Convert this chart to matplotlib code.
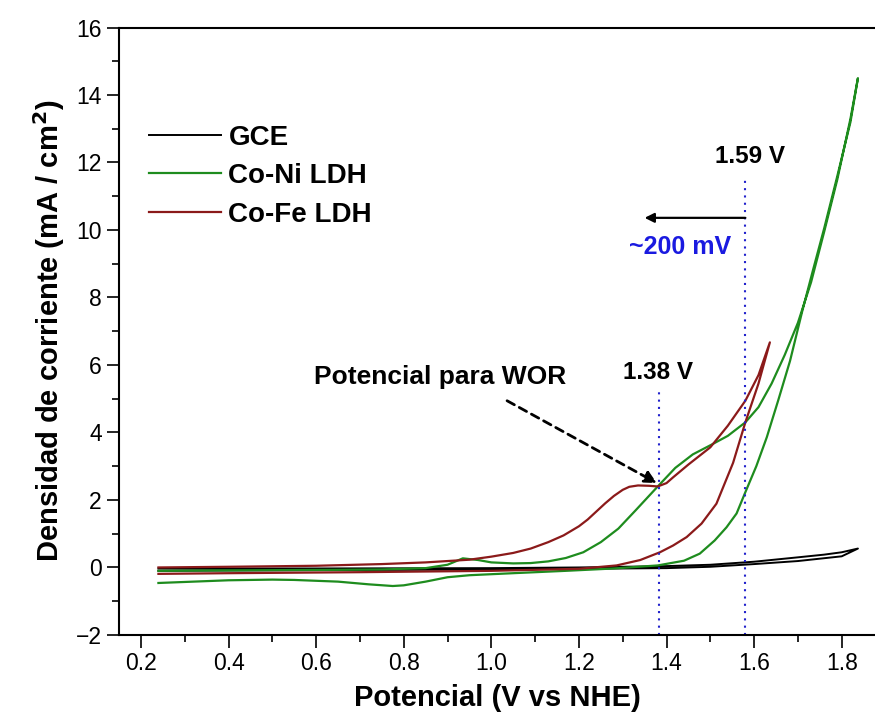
import numpy as np
import matplotlib.pyplot as plt
from matplotlib.ticker import MultipleLocator

plt.rcParams['font.family'] = ['Liberation Sans', 'DejaVu Sans']

# GCE: barrido de ida y de vuelta
gce_x = [0.24, 0.6, 1.0, 1.2, 1.4, 1.5, 1.6, 1.7, 1.76, 1.8, 1.837,
         1.8, 1.7, 1.6, 1.5, 1.4, 1.0, 0.6, 0.24]
gce_y = [-0.03, -0.03, -0.02, 0.0, 0.04, 0.08, 0.17, 0.3, 0.38, 0.45, 0.56,
         0.33, 0.19, 0.1, 0.02, -0.02, -0.06, -0.08, -0.1]

# Co-Ni LDH
coni_x = [0.24, 0.35, 0.5, 0.65, 0.75, 0.85, 0.9, 0.935, 0.97, 1.0, 1.05, 1.09,
          1.13, 1.17, 1.21, 1.25, 1.29, 1.33, 1.38, 1.42, 1.46, 1.5, 1.54, 1.58,
          1.61, 1.64, 1.67, 1.70, 1.73, 1.76, 1.79, 1.82, 1.837,
          1.82, 1.79, 1.76, 1.734, 1.71, 1.682, 1.655, 1.629, 1.605, 1.58, 1.56,
          1.537, 1.51, 1.476, 1.44, 1.38, 1.28, 1.17, 1.05, 0.95, 0.9, 0.85, 0.8,
          0.775, 0.72, 0.65, 0.55, 0.5, 0.4, 0.3, 0.24]
coni_y = [-0.1, -0.09, -0.08, -0.07, -0.06, -0.02, 0.08, 0.27, 0.22, 0.15, 0.12, 0.13,
          0.18, 0.28, 0.45, 0.75, 1.15, 1.7, 2.4, 2.95, 3.35, 3.62, 3.9, 4.3,
          4.75, 5.45, 6.3, 7.25, 8.45, 9.95, 11.5, 13.3, 14.5,
          13.2, 11.6, 10.05, 8.79, 7.6, 6.12, 4.95, 3.86, 3.0, 2.23, 1.6,
          1.19, 0.8, 0.41, 0.2, 0.06, -0.03, -0.1, -0.17, -0.23, -0.29, -0.42, -0.53,
          -0.55, -0.5, -0.42, -0.37, -0.36, -0.38, -0.43, -0.46]

# Co-Fe LDH
cofe_x = [0.24, 0.4, 0.6, 0.75, 0.85, 0.95, 1.0, 1.05, 1.09, 1.13, 1.165, 1.2,
          1.22, 1.24, 1.26, 1.28, 1.30, 1.315, 1.335, 1.36, 1.38, 1.4, 1.415,
          1.45, 1.5, 1.54, 1.58, 1.61, 1.636,
          1.61, 1.58, 1.552, 1.53, 1.514, 1.48, 1.446, 1.415, 1.385, 1.34, 1.286,
          1.2, 1.0, 0.7, 0.4, 0.24]
cofe_y = [0.0, 0.02, 0.05, 0.1, 0.15, 0.23, 0.32, 0.43, 0.56, 0.75, 0.95, 1.22,
          1.42, 1.66, 1.9, 2.12, 2.3, 2.39, 2.43, 2.42, 2.4, 2.5, 2.67,
          3.05, 3.56, 4.2, 4.94, 5.7, 6.67,
          5.45, 4.3, 3.1, 2.4, 1.89, 1.3, 0.9, 0.65, 0.45, 0.22, 0.06,
          -0.04, -0.1, -0.14, -0.17, -0.19]

# potenciales marcados
v_wor = 1.383
v_coni = 1.58

fig = plt.figure(figsize=(8.75, 7.24), dpi=100)
ax = fig.add_axes([0.136, 0.123, 0.864, 0.839])

ax.plot(gce_x, gce_y, color='black', lw=1.4, label='GCE')
ax.plot(coni_x, coni_y, color='#1e8c1e', lw=1.6, label='Co-Ni LDH')
ax.plot(cofe_x, cofe_y, color='#8b1a1a', lw=1.6, label='Co-Fe LDH')

# líneas punteadas verticales
ax.plot([v_wor, v_wor], [-2, 5.2], color='#2222cc', lw=1.5, ls=(0, (1, 2.5)))
ax.plot([v_coni, v_coni], [-2, 11.6], color='#2222cc', lw=1.5, ls=(0, (1, 2.5)))

ax.text(1.59, 11.98, '1.59 V', fontsize=17.5, fontweight='bold', ha='center', va='baseline')
ax.text(1.38, 5.59, '1.38 V', fontsize=17.5, fontweight='bold', ha='center', va='baseline')
ax.text(0.883, 5.44, 'Potencial para WOR', fontsize=19, fontweight='bold',
        ha='center', va='baseline')
ax.text(1.43, 9.29, '~200 mV', fontsize=18, fontweight='bold', color='#1a1ae0',
        ha='center', va='baseline')

ax.annotate('', xy=(1.35, 10.36), xytext=(v_coni, 10.36),
            arrowprops=dict(arrowstyle='-|>', color='black', lw=1.6,
                            mutation_scale=14, shrinkA=0, shrinkB=0))
ax.annotate('', xy=(1.378, 2.5), xytext=(1.036, 4.94),
            arrowprops=dict(arrowstyle='-|>', color='black', lw=2.0, ls=(0, (3, 2)),
                            mutation_scale=18, shrinkA=0, shrinkB=0))

ax.set_xlim(0.15, 1.876)
ax.set_ylim(-2, 16)
ax.xaxis.set_major_locator(MultipleLocator(0.2))
ax.xaxis.set_minor_locator(MultipleLocator(0.1))
ax.yaxis.set_major_locator(MultipleLocator(2))
ax.yaxis.set_minor_locator(MultipleLocator(1))
ax.tick_params(which='major', direction='out', length=9, width=1.2, labelsize=16.5)
ax.tick_params(which='minor', direction='out', length=5, width=1.2)
ax.tick_params(top=False, right=False)
ax.spines['right'].set_visible(False)
for s in ['left', 'bottom', 'top']:
    ax.spines[s].set_linewidth(1.5)

ax.set_xlabel('Potencial (V vs NHE)', fontsize=21, fontweight='bold', labelpad=6)
ax.set_ylabel('Densidad de corriente (mA / cm$^\\mathbf{2}$)', fontsize=21,
              fontweight='bold', labelpad=6)

ax.legend(loc='upper left', bbox_to_anchor=(0.04, 0.84), frameon=False,
          prop={'size': 20, 'weight': 'bold'}, handlelength=2.6,
          handletextpad=0.25, labelspacing=0.45, borderpad=0, borderaxespad=0)

plt.savefig('out.png', dpi=100)
